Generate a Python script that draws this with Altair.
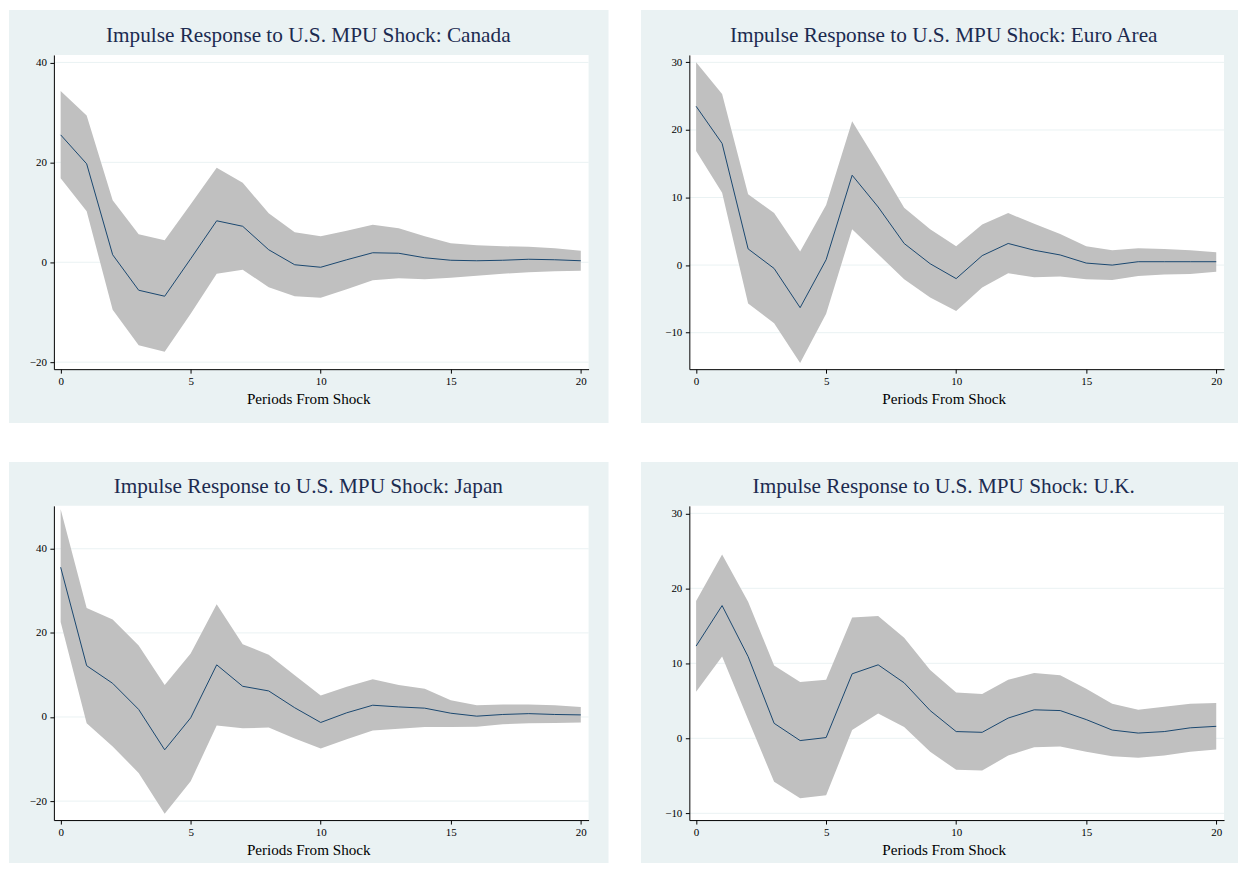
import altair as alt
import pandas as pd

# ---------------- data ----------------
steps = list(range(21))

canada_irf = [25.5, 19.7, 1.5, -5.6, -6.8, 0.7, 8.3, 7.2, 2.5, -0.5, -1.0, 0.5, 1.9, 1.8, 0.9, 0.4, 0.3, 0.4, 0.6, 0.5, 0.3]
canada_lo = [16.8, 10.2, -9.5, -16.6, -17.9, -10.3, -2.3, -1.5, -5.0, -6.8, -7.1, -5.4, -3.6, -3.2, -3.4, -3.1, -2.7, -2.3, -2.0, -1.8, -1.7]
canada_hi = [34.3, 29.4, 12.4, 5.6, 4.4, 11.6, 18.9, 15.9, 9.8, 6.0, 5.2, 6.3, 7.5, 6.8, 5.2, 3.8, 3.4, 3.2, 3.1, 2.8, 2.3]

euro_irf = [23.5, 18.0, 2.4, -0.5, -6.3, 0.8, 13.3, 8.6, 3.2, 0.2, -2.0, 1.4, 3.2, 2.2, 1.5, 0.3, 0.0, 0.5, 0.5, 0.5, 0.5]
euro_lo = [16.9, 10.7, -5.7, -8.6, -14.5, -7.2, 5.3, 1.6, -2.1, -4.8, -6.8, -3.3, -1.2, -1.8, -1.7, -2.1, -2.2, -1.6, -1.4, -1.3, -1.0]
euro_hi = [30.0, 25.3, 10.5, 7.7, 2.0, 8.9, 21.3, 15.0, 8.5, 5.3, 2.8, 6.0, 7.7, 6.1, 4.6, 2.8, 2.2, 2.5, 2.4, 2.2, 1.9]

japan_irf = [35.6, 12.2, 8.0, 1.8, -7.8, -0.2, 12.4, 7.3, 6.2, 2.2, -1.3, 1.0, 2.8, 2.4, 2.1, 0.9, 0.2, 0.6, 0.8, 0.6, 0.5]
japan_lo = [22.6, -1.5, -7.0, -13.3, -23.0, -15.3, -2.0, -2.7, -2.5, -5.1, -7.5, -5.3, -3.2, -2.8, -2.4, -2.4, -2.3, -1.7, -1.5, -1.4, -1.3]
japan_hi = [49.4, 25.9, 23.2, 17.0, 7.6, 15.1, 26.8, 17.3, 14.8, 9.9, 5.1, 7.2, 9.0, 7.6, 6.7, 4.0, 2.8, 3.0, 3.0, 2.8, 2.4]

uk_irf = [12.3, 17.7, 10.9, 2.0, -0.3, 0.1, 8.6, 9.8, 7.4, 3.7, 0.9, 0.8, 2.7, 3.8, 3.7, 2.5, 1.1, 0.7, 0.9, 1.4, 1.6]
uk_lo = [6.2, 10.9, 2.5, -5.8, -8.0, -7.6, 1.1, 3.3, 1.5, -1.8, -4.2, -4.3, -2.3, -1.2, -1.1, -1.8, -2.4, -2.6, -2.3, -1.8, -1.5]
uk_hi = [18.3, 24.5, 18.2, 9.7, 7.5, 7.8, 16.1, 16.3, 13.4, 9.1, 6.1, 5.9, 7.8, 8.7, 8.4, 6.6, 4.6, 3.8, 4.2, 4.6, 4.7]

titles = [
    "Impulse Response to U.S. MPU Shock: Canada",
    "Impulse Response to U.S. MPU Shock: Euro Area",
    "Impulse Response to U.S. MPU Shock: Japan",
    "Impulse Response to U.S. MPU Shock: U.K.",
]
x_title = "Periods From Shock"
x_ticks = [0, 5, 10, 15, 20]
x_domain = [-0.26, 20.3]
y_domains = [[-21.4, 41.5], [-15.4, 31.1], [-24.5, 50.2], [-10.9, 31.0]]
y_ticks = [[-20, 0, 20, 40], [-10, 0, 10, 20, 30], [-20, 0, 20, 40], [-10, 0, 10, 20, 30]]

# ---------------- style ----------------
FONT = "Liberation Serif"
BG = "#EAF2F3"
GRID = "#EAF2F3"
BAND = "#C0C0C0"
LINE = "#1A476F"
TITLE_C = "#1C2B50"
W, H = 536, 315
TITLE_X = 255


def make_axis(title, values, is_x):
    kw = dict(
        values=values, grid=False, domainColor="black", domainWidth=1,
        tickColor="black", tickSize=4, tickWidth=1,
        labelFont=FONT, labelFontSize=11, labelColor="black",
        zindex=1,
    )
    if is_x:
        kw.update(title=title, labelFlush=False, labelPadding=2,
                  titleFont=FONT, titleFontSize=15.2, titleColor="black",
                  titleFontWeight="normal", titleX=TITLE_X, titleY=34.6,
                  titleAlign="center", titleBaseline="alphabetic")
    else:
        kw.update(title=None, labelPadding=3.5)
    return alt.Axis(**kw)


def panel(title, irf, lo, hi, ydom, yticks, rl, rr, rt, rb):
    df = pd.DataFrame({"step": steps, "irf": irf, "lo": lo, "hi": hi})
    one = alt.Data(values=[{"a": 1}])
    xs = alt.Scale(domain=x_domain, nice=False, zero=False)
    ys = alt.Scale(domain=ydom, nice=False, zero=False)
    xa = make_axis(x_title, x_ticks, True)
    ya = make_axis(None, yticks, False)

    bg = alt.Chart(one).mark_rect(fill=BG).encode(
        x=alt.value(rl), x2=alt.value(W + rr), y=alt.value(rt), y2=alt.value(H + rb))
    white = alt.Chart(one).mark_rect(fill="white").encode(
        x=alt.value(0), x2=alt.value(W), y=alt.value(0), y2=alt.value(H))
    grid = alt.Chart(pd.DataFrame({"t": yticks})).mark_rule(color=GRID, strokeWidth=1).encode(
        y=alt.Y("t:Q", scale=ys, axis=ya))
    band = alt.Chart(df).mark_area(color=BAND, opacity=1).encode(
        x=alt.X("step:Q", scale=xs, axis=xa),
        y=alt.Y("lo:Q", scale=ys, axis=ya),
        y2="hi:Q")
    line = alt.Chart(df).mark_line(color=LINE, strokeWidth=1).encode(
        x=alt.X("step:Q", scale=xs, axis=xa),
        y=alt.Y("irf:Q", scale=ys, axis=ya))
    ttl = alt.Chart(one).mark_text(
        text=title, font=FONT, fontSize=21.3, color=TITLE_C,
        align="center", baseline="alphabetic").encode(
        x=alt.value(TITLE_X), y=alt.value(-13.3))
    return alt.layer(bg, white, grid, band, line, ttl).properties(width=W, height=H)


p1 = panel(titles[0], canada_irf, canada_lo, canada_hi, y_domains[0], y_ticks[0], -45, 20, -45, 54)
p2 = panel(titles[1], euro_irf, euro_lo, euro_hi, y_domains[1], y_ticks[1], -48.5, 14, -45, 54)
p3 = panel(titles[2], japan_irf, japan_lo, japan_hi, y_domains[2], y_ticks[2], -45, 20, -44, 43)
p4 = panel(titles[3], uk_irf, uk_lo, uk_hi, y_domains[3], y_ticks[3], -48.5, 14, -44, 43)

chart = alt.vconcat(
    alt.hconcat(p1, p2, spacing=31),
    alt.hconcat(p3, p4, spacing=31),
    spacing=37,
).properties(padding=0).configure_view(stroke="transparent")

chart.save("out.html", embed_options={"renderer": "svg", "actions": False})
